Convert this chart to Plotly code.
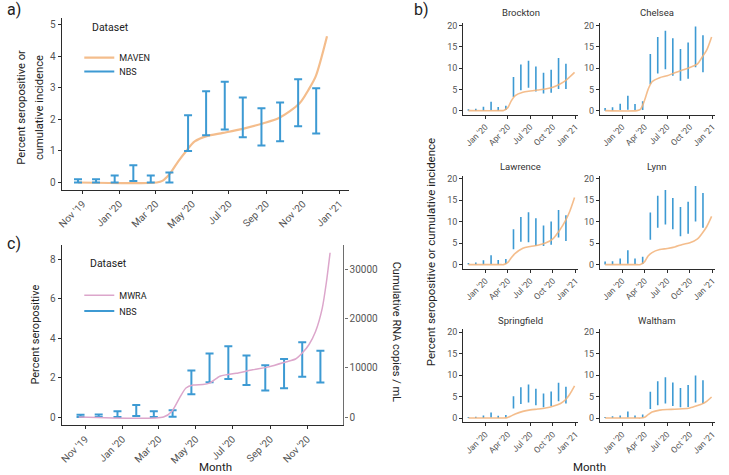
import plotly.graph_objects as go

W, H = 729, 475

# ---------------- data ----------------
NBS_DATES = ["2019-10-24", "2019-11-23", "2019-12-24", "2020-01-24", "2020-02-22",
             "2020-03-24", "2020-04-24", "2020-05-24", "2020-06-24", "2020-07-24",
             "2020-08-24", "2020-09-24", "2020-10-24", "2020-11-23"]

A_NBS_LO = [0.0, 0.0, 0.0, 0.05, 0.0, 0.0, 1.0, 1.5, 1.68, 1.43, 1.17, 1.31, 1.78, 1.55]
A_NBS_HI = [0.1, 0.1, 0.22, 0.55, 0.22, 0.32, 2.13, 2.89, 3.19, 2.69, 2.35, 2.53, 3.27, 2.98]

MAVEN_DATES = ["2019-10-24", "2020-03-03", "2020-03-13", "2020-03-24", "2020-04-08",
               "2020-04-21", "2020-05-05", "2020-05-25", "2020-06-21", "2020-07-24",
               "2020-08-26", "2020-09-22", "2020-10-26", "2020-11-10", "2020-11-22",
               "2020-12-11"]
MAVEN_VALUES = [0, 0, 0.06, 0.26, 0.68, 1.0, 1.3, 1.47, 1.57, 1.70, 1.87, 2.04, 2.5,
                2.93, 3.35, 4.63]

C_NBS_LO = [0.0, 0.0, 0.0, 0.05, 0.0, 0.02, 1.16, 1.77, 1.93, 1.63, 1.35, 1.46, 2.05, 1.75]
C_NBS_HI = [0.12, 0.13, 0.3, 0.61, 0.3, 0.35, 2.37, 3.23, 3.6, 3.13, 2.63, 2.95, 3.8, 3.37]

MWRA_DATES = ["2019-10-21", "2020-03-09", "2020-03-23", "2020-04-05", "2020-04-15",
              "2020-04-27", "2020-05-13", "2020-05-24", "2020-06-10", "2020-06-21",
              "2020-07-07", "2020-08-03", "2020-08-30", "2020-09-27", "2020-10-13",
              "2020-10-24", "2020-11-04", "2020-11-15", "2020-11-26", "2020-12-03",
              "2020-12-09"]
MWRA_COPIES = [0, 0, 1200, 4000, 5900, 6500, 6600, 6900, 8300, 8600, 8900, 9600, 10200,
               11200, 11800, 13000, 14700, 17400, 22100, 27500, 33400]

CITIES = ["Brockton", "Chelsea", "Lawrence", "Lynn", "Springfield", "Waltham"]

B_LINE_DATES = ["2019-10-24", "2020-03-01", "2020-03-15", "2020-04-01", "2020-04-15",
                "2020-05-01", "2020-06-01", "2020-07-01", "2020-08-01", "2020-09-01",
                "2020-10-01", "2020-11-01", "2020-11-20", "2020-12-08", "2020-12-28"]

BROCKTON_LINE = [0, 0, 0.05, 0.7, 2.3, 3.5, 4.3, 4.6, 4.85, 5.1, 5.5, 6.3, 7.0, 7.9, 9.0]
CHELSEA_LINE = [0, 0, 0.3, 2.5, 5.0, 6.8, 7.75, 8.2, 8.9, 9.55, 10.15, 11.0, 12.6, 14.2, 17.3]
LAWRENCE_LINE = [0, 0, 0, 0.5, 1.6, 2.6, 3.8, 4.2, 4.5, 5.0, 6.0, 8.3, 10.1, 12.3, 15.6]
LYNN_LINE = [0, 0, 0, 0.7, 2.0, 2.8, 3.5, 3.75, 4.1, 4.7, 5.1, 6.0, 7.3, 8.8, 11.2]
SPRINGFIELD_LINE = [0, 0, 0, 0.15, 0.5, 0.95, 1.55, 1.9, 2.1, 2.35, 2.75, 3.4, 4.2, 5.5, 7.5]
WALTHAM_LINE = [0, 0, 0, 0.2, 0.8, 1.4, 1.85, 2.0, 2.05, 2.15, 2.35, 2.9, 3.3, 3.9, 4.9]

BROCKTON_LO = [0, 0, 0, 0.1, 0, 0.15, 3.2, 4.8, 5.4, 4.5, 4.0, 4.2, 5.1, 5.1]
BROCKTON_HI = [0.3, 0.45, 0.9, 2.1, 0.85, 1.15, 7.9, 10.85, 11.7, 10.4, 8.9, 9.6, 12.4, 11.0]
CHELSEA_LO = [0, 0, 0.15, 0.2, 0.15, 0.15, 6.2, 8.7, 9.7, 8.2, 7.0, 7.5, 10.2, 9.0]
CHELSEA_HI = [0.6, 0.8, 1.6, 3.5, 1.55, 2.2, 13.3, 17.3, 18.8, 17.0, 14.5, 16.0, 19.8, 17.7]
LAWRENCE_LO = [0, 0, 0, 0.15, 0, 0.15, 3.6, 5.3, 5.2, 4.3, 4.3, 4.6, 6.3, 5.5]
LAWRENCE_HI = [0.4, 0.5, 1.0, 2.2, 1.1, 1.3, 8.2, 11.05, 12.2, 10.8, 9.1, 10.0, 12.7, 11.5]
LYNN_LO = [0, 0, 0, 0.2, 0.15, 0.15, 5.8, 8.55, 9.3, 8.2, 6.6, 7.2, 10.0, 8.6]
LYNN_HI = [0.7, 0.8, 1.4, 3.35, 1.4, 1.85, 12.1, 16.0, 17.35, 15.5, 13.4, 14.6, 18.3, 16.65]
SPRINGFIELD_LO = [0, 0, 0, 0.1, 0, 0.1, 2.25, 3.25, 3.6, 3.0, 2.5, 2.8, 3.9, 3.4]
SPRINGFIELD_HI = [0.25, 0.3, 0.6, 1.3, 0.55, 0.7, 5.1, 7.15, 7.8, 6.85, 5.7, 6.2, 8.25, 7.3]
WALTHAM_LO = [0, 0, 0, 0.1, 0, 0.1, 2.1, 3.0, 3.4, 2.8, 2.5, 2.6, 3.6, 3.35]
WALTHAM_HI = [0.25, 0.4, 0.6, 1.5, 0.6, 0.85, 6.15, 8.6, 9.5, 8.3, 7.0, 7.7, 9.9, 8.8]

A_TICKS = ["2019-11-01", "2020-01-01", "2020-03-01", "2020-05-01", "2020-07-01",
           "2020-09-01", "2020-11-01", "2021-01-01"]
A_TICKTEXT = ["Nov '19", "Jan '20", "Mar '20", "May '20", "Jul '20", "Sep '20",
              "Nov '20", "Jan '21"]
B_TICKS = ["2020-01-01", "2020-04-01", "2020-07-01", "2020-10-01", "2021-01-01"]
B_TICKTEXT = ["Jan '20", "Apr '20", "Jul '20", "Oct '20", "Jan '21"]
RNA_TICKS = [0, 10000, 20000, 30000]

# ---------------- styling ----------------
FONT = "Roboto"
BLUE = "#3d9ad3"
ORANGE = "rgba(242,178,120,0.85)"
PINK = "#dca6cb"
AX = "#2b2b2b"
TICKC = "#555555"


def px_x(p):
    return p / W


def px_y(p):
    return 1 - p / H


def seg(dates, lo, hi):
    xs, ys = [], []
    for d, l, h in zip(dates, lo, hi):
        xs += [d, d, None]
        ys += [l, h, None]
    return xs, ys


fig = go.Figure()

# ---- panel a ----
fig.add_trace(go.Scatter(x=MAVEN_DATES, y=MAVEN_VALUES, mode="lines", name="MAVEN",
                         line=dict(color=ORANGE, width=2.2, shape="spline", smoothing=0.8),
                         xaxis="x", yaxis="y", legend="legend"))
xs, ys = seg(NBS_DATES, A_NBS_LO, A_NBS_HI)
fig.add_trace(go.Scatter(x=xs, y=ys, mode="lines", name="NBS",
                         line=dict(color=BLUE, width=2),
                         error_y=dict(type="constant", value=0, width=4, thickness=2, color=BLUE),
                         xaxis="x", yaxis="y", legend="legend2"))

# ---- panel c ----
fig.add_trace(go.Scatter(x=MWRA_DATES, y=MWRA_COPIES, mode="lines", name="MWRA",
                         line=dict(color=PINK, width=1.5, shape="spline", smoothing=0.6),
                         xaxis="x2", yaxis="y9", legend="legend3"))
xs, ys = seg(NBS_DATES, C_NBS_LO, C_NBS_HI)
fig.add_trace(go.Scatter(x=xs, y=ys, mode="lines", name="NBS",
                         line=dict(color=BLUE, width=2),
                         error_y=dict(type="constant", value=0, width=4, thickness=2, color=BLUE),
                         xaxis="x2", yaxis="y2", legend="legend4"))

# ---- panel b ----
B_LINES = [BROCKTON_LINE, CHELSEA_LINE, LAWRENCE_LINE, LYNN_LINE, SPRINGFIELD_LINE, WALTHAM_LINE]
B_LO = [BROCKTON_LO, CHELSEA_LO, LAWRENCE_LO, LYNN_LO, SPRINGFIELD_LO, WALTHAM_LO]
B_HI = [BROCKTON_HI, CHELSEA_HI, LAWRENCE_HI, LYNN_HI, SPRINGFIELD_HI, WALTHAM_HI]

col_x = [(462.7, 578.3), (600.7, 716.7)]
row_y = [(20.7, 113.3), (174.7, 268.3), (329.3, 422.7)]
title_y = [11, 165.7, 320.7]

layout_axes = {}
annotations = []
for i, city in enumerate(CITIES):
    k = 3 + i
    r, c = divmod(i, 2)
    xs, ys = seg(NBS_DATES, B_LO[i], B_HI[i])
    fig.add_trace(go.Scatter(x=xs, y=ys, mode="lines", showlegend=False,
                             line=dict(color=BLUE, width=1.6),
                             xaxis=f"x{k}", yaxis=f"y{k}"))
    fig.add_trace(go.Scatter(x=B_LINE_DATES, y=B_LINES[i], mode="lines", showlegend=False,
                             line=dict(color=ORANGE, width=1.6, shape="spline", smoothing=0.8),
                             xaxis=f"x{k}", yaxis=f"y{k}"))
    x0, x1 = col_x[c]
    y0, y1 = row_y[r]
    layout_axes[f"xaxis{k}"] = dict(
        domain=[px_x(x0), px_x(x1)], anchor=f"y{k}", type="date",
        range=["2019-10-03", "2021-01-10"], tickvals=B_TICKS, ticktext=B_TICKTEXT,
        tickangle=-45, showline=True, linecolor=AX, linewidth=1.2, ticks="outside",
        ticklen=3, tickcolor=AX, tickfont=dict(size=8.5, color=TICKC, family=FONT),
        showgrid=False, zeroline=False)
    layout_axes[f"yaxis{k}"] = dict(
        domain=[px_y(y1), px_y(y0)], anchor=f"x{k}", range=[-0.93, 20.7],
        tickvals=[0, 5, 10, 15, 20], showline=True, linecolor=AX, linewidth=1.2,
        ticks="outside", ticklen=3, tickcolor=AX,
        tickfont=dict(size=9, color=TICKC, family=FONT), showgrid=False, zeroline=False)
    annotations.append(dict(text=city, x=px_x((x0 + x1) / 2), y=px_y(title_y[r]),
                            xref="paper", yref="paper", showarrow=False,
                            font=dict(size=9.5, color="#333333", family=FONT),
                            xanchor="center", yanchor="middle"))

common_tick = dict(showline=True, linecolor=AX, linewidth=1.2, ticks="outside", ticklen=3,
                   tickcolor=AX, tickfont=dict(size=10, color=TICKC, family=FONT),
                   showgrid=False, zeroline=False)

layout_axes["xaxis"] = dict(domain=[px_x(57.3), px_x(347)], anchor="y", type="date",
                            range=["2019-09-27", "2021-01-16"], tickvals=A_TICKS,
                            ticktext=A_TICKTEXT, tickangle=-45, **common_tick)
layout_axes["yaxis"] = dict(domain=[px_y(189.3), px_y(15.7)], anchor="x",
                            range=[-0.24, 5.22], tickvals=[0, 1, 2, 3, 4, 5], **common_tick)
layout_axes["xaxis2"] = dict(domain=[px_x(57.3), px_x(341.7)], anchor="y2", type="date",
                             range=["2019-09-23", "2020-12-31"], tickvals=A_TICKS,
                             ticktext=A_TICKTEXT, tickangle=-45, **common_tick)
layout_axes["yaxis2"] = dict(domain=[px_y(426), px_y(245)], anchor="x2",
                             range=[-0.42, 8.72], tickvals=[0, 2, 4, 6, 8], **common_tick)
right_tick = dict(common_tick)
right_tick.update(linecolor="#6e6e6e", tickcolor="#6e6e6e")
layout_axes["yaxis9"] = dict(overlaying="y2", side="right", anchor="x2",
                             range=[-0.42 * 4000, 8.72 * 4000],
                             tickvals=RNA_TICKS, ticktext=[str(v) for v in RNA_TICKS],
                             **right_tick)

# ---- text annotations ----
def ann(text, x, y, size, angle=0, xanchor="center", color="#222222"):
    annotations.append(dict(text=text, x=px_x(x), y=px_y(y), xref="paper", yref="paper",
                            showarrow=False, textangle=angle, xanchor=xanchor,
                            yanchor="middle", font=dict(size=size, color=color, family=FONT)))

ann("a)", 0, 8, 16, xanchor="left")
ann("b)", 411, 8, 16, xanchor="left")
ann("c)", 0, 243, 16, xanchor="left")
ann("Percent seropositive or", 16.5, 106, 11.2, angle=-90)
ann("cumulative incidence", 35, 106, 11.2, angle=-90)
ann("Percent seropositive", 31, 335, 11, angle=-90)
ann("Month", 213, 468, 11.5)
ann("Cumulative RNA copies / mL", 395, 332, 11, angle=90)
ann("Percent seropositive or cumulative incidence", 431, 252, 11.5, angle=-90)
ann("Month", 590, 468, 11.5)
ann("Dataset", 86, 26, 10.5, xanchor="left")
ann("Dataset", 84, 263, 10.5, xanchor="left")

def leg(x_text, y):
    return dict(x=px_x(x_text - 42), y=px_y(y), xanchor="left", yanchor="middle",
                bgcolor="rgba(0,0,0,0)", borderwidth=0,
                font=dict(size=9, color="#222222", family=FONT), itemwidth=30)

fig.update_layout(
    width=W, height=H, margin=dict(l=0, r=0, t=0, b=0),
    paper_bgcolor="white", plot_bgcolor="white",
    font=dict(family=FONT),
    annotations=annotations,
    legend=leg(117, 56), legend2=leg(117, 70),
    legend3=leg(117, 295), legend4=leg(117, 311),
    showlegend=True,
    **layout_axes,
)

fig.write_html("out.html", config={"displayModeBar": False},
               post_script="document.body.style.margin='0';document.body.style.padding='0';")
